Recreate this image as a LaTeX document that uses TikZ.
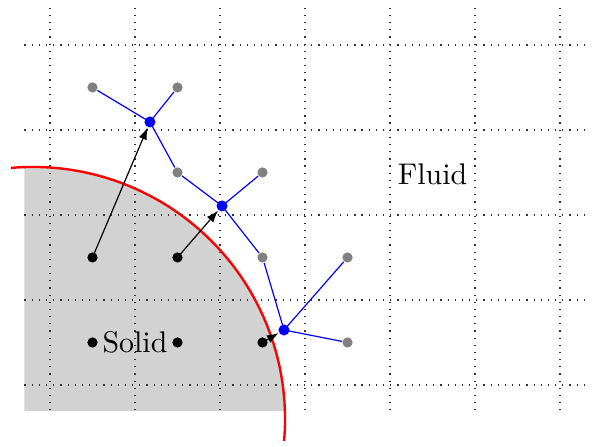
\documentclass[tikz,border=0pt]{standalone}
\usetikzlibrary{arrows.meta}
\begin{document}
\begin{tikzpicture}[
  gdot/.style={circle,fill=gray,inner sep=0pt,minimum size=1.2mm},
  bdot/.style={circle,fill=black,inner sep=0pt,minimum size=1.2mm},
  udot/.style={circle,fill=blue,inner sep=0pt,minimum size=1.3mm},
  link/.style={blue,line width=0.4pt},
  vec/.style={-{Latex[length=1.4mm,width=1mm]},line width=0.4pt}
]
\useasboundingbox (-0.588,-0.718) rectangle (6.388,4.529);
% solid region
\begin{scope}
  \clip (-0.3,-0.3) rectangle (4,4);
  \fill[gray!35] (-0.2,-0.4) circle (2.965);
\end{scope}
% grid
\draw[dotted,line width=0.4pt,black!80] (-0.3,-0.3) grid (6.35,4.45);
% interface
\draw[red,line width=0.8pt] (-0.2,-0.4) ++(95:2.965) arc (95:-5:2.965);
% points
\node[bdot] (s1) at (0.5,1.5) {};
\node[bdot] (s2) at (1.5,1.5) {};
\node[bdot] (s3) at (0.5,0.5) {};
\node[bdot] (s4) at (1.5,0.5) {};
\node[bdot] (s5) at (2.5,0.5) {};
\node[gdot] (f1) at (0.5,3.5) {};
\node[gdot] (f2) at (1.5,3.5) {};
\node[gdot] (f3) at (1.5,2.5) {};
\node[gdot] (f4) at (2.5,2.5) {};
\node[gdot] (f5) at (2.5,1.5) {};
\node[gdot] (f6) at (3.5,1.5) {};
\node[gdot] (f7) at (3.5,0.5) {};
\node[udot] (i1) at (1.176,3.094) {};
\node[udot] (i2) at (2.024,2.106) {};
\node[udot] (i3) at (2.753,0.647) {};
% links
\draw[link] (i1.center) -- (f1);
\draw[link] (i1.center) -- (f2);
\draw[link] (i1.center) -- (f3);
\draw[link] (i2.center) -- (f3);
\draw[link] (i2.center) -- (f4);
\draw[link] (i2.center) -- (f5);
\draw[link] (i3.center) -- (f5);
\draw[link] (i3.center) -- (f6);
\draw[link] (i3.center) -- (f7);
% vectors
\draw[vec] (s1.center) -- (i1);
\draw[vec] (s2.center) -- (i2);
\draw[vec] (s5.center) -- (i3);
% labels
\node (solid) at (1.0,0.5) {Solid};
\node (fluid) at (4.5,2.48) {Fluid};
\end{tikzpicture}
\end{document}
